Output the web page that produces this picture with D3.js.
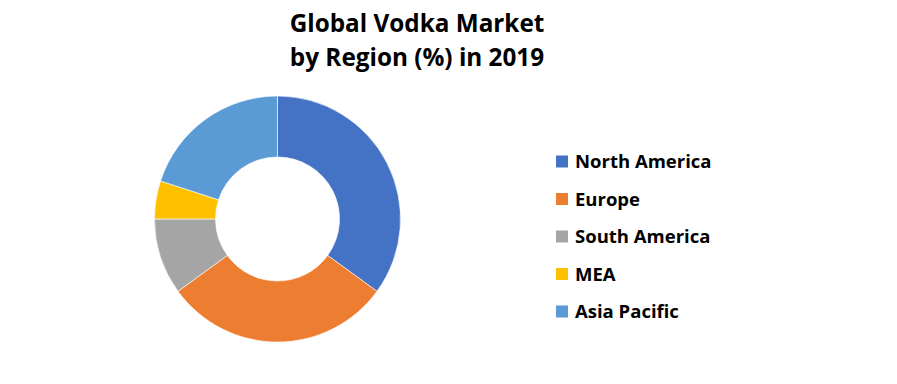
<!DOCTYPE html>
<html><head><meta charset="utf-8">
<script src="https://cdn.jsdelivr.net/npm/d3@7"></script>
<style>body{margin:0;background:#fff}svg{display:block}</style>
</head><body>
<svg id="c" width="897" height="384"></svg>
<script>
const categories = ["North America","Europe","South America","MEA","Asia Pacific"];
const values = [35,30,10,5,20];
const colors = ["#4472C4","#ED7D31","#A5A5A5","#FFC000","#5B9BD5"];
const titleLines = ["Global Vodka Market","by Region (%) in 2019"];

const svg = d3.select("#c");
const font = "'Open Sans', sans-serif";

svg.append("g").selectAll("text").data(titleLines).join("text")
  .attr("x",417).attr("y",(d,i)=>32+i*33.5)
  .attr("text-anchor","middle").attr("font-family",font).attr("font-weight","bold")
  .attr("font-size",24.3).attr("fill","#000").text(d=>d);

const pie = d3.pie().sort(null).value(d=>d)(values);
const arc = d3.arc().innerRadius(62).outerRadius(123);
svg.append("g").attr("transform","translate(277.5,219)")
  .selectAll("path").data(pie).join("path")
  .attr("d",arc).attr("fill",(d,i)=>colors[i])
  .attr("stroke","#fff").attr("stroke-width",0.6);

const y = d3.scalePoint().domain(categories).range([161.5,311.5]);
const lg = svg.append("g").selectAll("g").data(categories).join("g")
  .attr("transform",d=>`translate(556,${y(d)})`);
lg.append("rect").attr("x",0).attr("y",-6).attr("width",12).attr("height",12)
  .attr("fill",(d,i)=>colors[i]);
lg.append("text").attr("x",19).attr("y",6.6)
  .attr("font-family",font).attr("font-weight","bold").attr("font-size",18.5)
  .attr("fill","#000").text(d=>d);
</script>
</body></html>
